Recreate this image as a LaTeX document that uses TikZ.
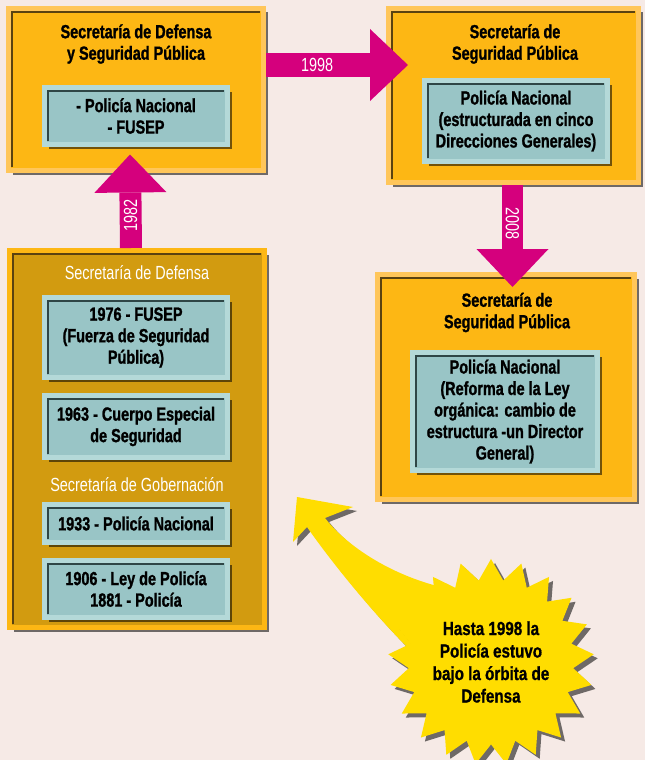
\documentclass[tikz,border=0pt]{standalone}
\usepackage{fontspec}
\setmainfont{Liberation Sans}[FakeStretch=0.76, BoldFeatures={FakeBold=1.2}]
\newfontfamily\starfont{Liberation Sans}[FakeStretch=0.8, BoldFeatures={FakeBold=0.8}]
\usetikzlibrary{shapes.geometric,shadows,arrows.meta}

\definecolor{bgcol}{HTML}{F6EAE6}
\definecolor{gold}{HTML}{FDB714}
\definecolor{goldedge}{HTML}{FFC65A}
\definecolor{golddark}{HTML}{5A4210}
\definecolor{darkgold}{HTML}{D29B10}
\definecolor{cyanfill}{HTML}{99C5C6}
\definecolor{cyanedge}{HTML}{B4D9D8}
\definecolor{cyandark}{HTML}{2F4646}
\definecolor{magentacol}{HTML}{D5007D}
\definecolor{starcol}{HTML}{FFDD00}

\begin{document}
\begin{tikzpicture}[x=1pt, y=-1pt,
		every node/.style={font=\bfseries\fontsize{19}{21.5}\selectfont, align=center},
		bevel/.style={path picture={\draw[#1, line width=2pt]
			([shift={(3.5pt,3.5pt)}]path picture bounding box.south west) |-
			([shift={(-3.5pt,-3.5pt)}]path picture bounding box.north east);}},
		shade box/.style={drop shadow={shadow xshift=4pt, shadow yshift=-4pt, fill=black, opacity=.55}},
		secbox/.style={draw=goldedge, line width=5pt, fill=gold, bevel=golddark, shade box, inner sep=0pt},
		polbox/.style={draw=cyanedge, line width=5pt, fill=cyanfill, bevel=cyandark, shade box, inner sep=0pt},
		whitelabel/.style={font=\fontsize{19}{21.5}\selectfont, text=white},
		yeararrow/.style={draw=magentacol, line width=#1, -{Triangle[width=72pt, length=38pt, line width=0pt]}}]
	\useasboundingbox (0,0) rectangle (645,760);
	\fill[bgcol] (0,0) rectangle (645,760);

	% Secretaria de Defensa y Seguridad Publica
	\node[secbox, minimum width=255pt, minimum height=162pt] (secA) at (136,89.5) {};
	\node (titA) at (136,44) {Secretaría de Defensa\\y Seguridad Pública};
	\node[polbox, minimum width=183pt, minimum height=57pt] (polA) at (136,116) {- Policía Nacional\\- FUSEP};

	% Defensa / Gobernacion
	\node[secbox, draw=gold, fill=darkgold, minimum width=255pt, minimum height=377pt] (secB) at (137,439) {};
	\node[whitelabel] (defB) at (137,273) {Secretaría de Defensa};
	\node[polbox, minimum width=183pt, minimum height=80pt] (b1976) at (136,337.5) {1976 - FUSEP\\(Fuerza de Seguridad\\Pública)};
	\node[polbox, minimum width=183pt, minimum height=62pt] (b1963) at (136,426.5) {1963 - Cuerpo Especial\\de Seguridad};
	\node[whitelabel] (gobB) at (137,485) {Secretaría de Gobernación};
	\node[polbox, minimum width=183pt, minimum height=38pt] (b1933) at (136,523.5) {1933 - Policía Nacional};
	\node[polbox, minimum width=183pt, minimum height=57pt] (b1906) at (136,589) {1906 - Ley de Policía\\1881 - Policía};

	% Secretaria de Seguridad Publica (1998)
	\node[secbox, minimum width=250pt, minimum height=174pt] (secC) at (513.5,95.5) {};
	\node (titC) at (515,44) {Secretaría de\\Seguridad Pública};
	\node[polbox, minimum width=183pt, minimum height=81pt] (polC) at (516,121) {Policía Nacional\\(estructurada en cinco\\Direcciones Generales)};

	% Secretaria de Seguridad Publica (2008)
	\node[secbox, minimum width=257pt, minimum height=225pt] (secD) at (506,387) {};
	\node (titD) at (507,312.5) {Secretaría de\\Seguridad Pública};
	\node[polbox, minimum width=185pt, minimum height=118pt] (polD) at (505,411.5) {Policía Nacional\\(Reforma de la Ley\\orgánica: cambio de\\estructura -un Director\\General)};

	% years
	\coordinate (tip98) at (408,65);
	\coordinate (tip08) at (512.5,287);
	\draw[yeararrow=22pt] ([xshift=-6pt]secB.north) -- ([xshift=-6pt,yshift=-7.5pt]polA.south)
		node[whitelabel, pos=.35, rotate=90] {1982};
	\draw[yeararrow=24pt] ([yshift=24.5pt]secA.east) -- (tip98)
		node[whitelabel, pos=.36] {1998};
	\draw[yeararrow=21pt] ([xshift=-1pt]secC.south) -- (tip08)
		node[whitelabel, pos=.38, rotate=-90] {2008};

	% callout
	\fill[starcol, shade box] (410,650) .. controls (370,610) and (330,560) .. (307,527)
		-- (293,542) -- (297,497) -- (353,507) -- (325,518)
		.. controls (350,550) and (400,580) .. (455,590) -- cycle;
	\node[star, star points=21, star point ratio=1.25, minimum size=200pt, inner sep=0pt,
		fill=starcol, shade box, font=\starfont\bfseries\fontsize{19}{22.5}\selectfont] (hasta) at (491,662)
		{Hasta 1998 la\\Policía estuvo\\bajo la órbita de\\Defensa};
\end{tikzpicture}
\end{document}
